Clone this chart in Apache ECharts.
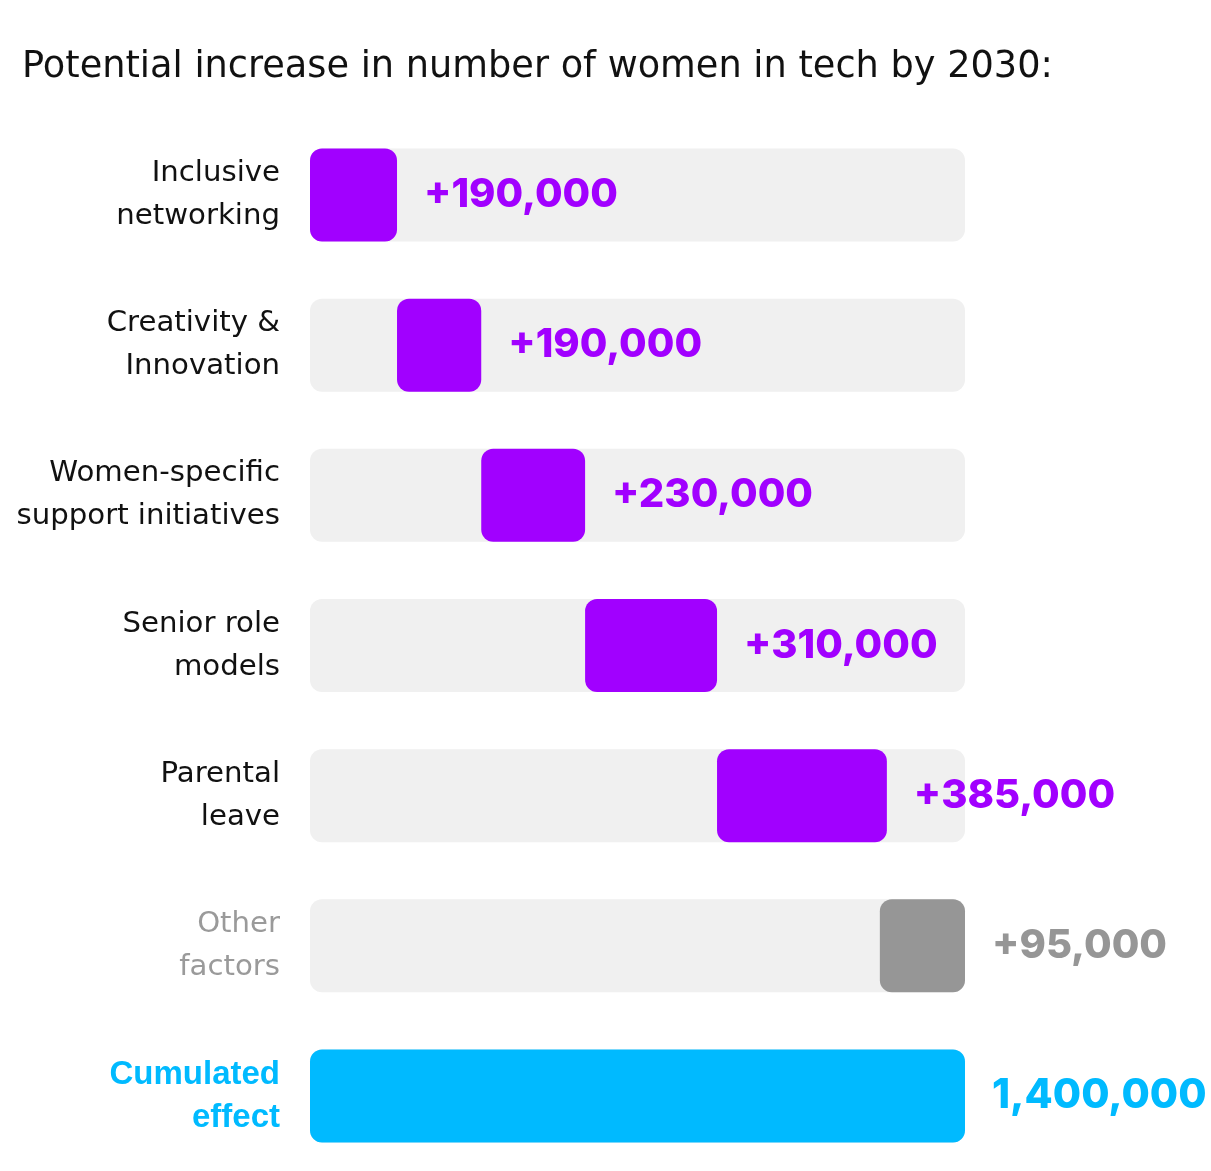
<!DOCTYPE html>
<html>
<head>
<meta charset="utf-8">
<script src="https://cdn.jsdelivr.net/npm/echarts@6/dist/echarts.min.js"></script>
<style>
html,body{margin:0;padding:0;background:#fff;}
#chart{width:1211px;height:1171px;}
</style>
</head>
<body>
<div id="chart"></div>
<script>
// Data (thousands)
const categories = ['Inclusive\nnetworking', 'Creativity &\nInnovation', 'Women-specific\nsupport initiatives', 'Senior role\nmodels', 'Parental\nleave', 'Other\nfactors', 'Cumulated\neffect'];
const valueLabels = ['+190,000', '+190,000', '+230,000', '+310,000', '+385,000', '+95,000', '1,400,000'];
// bar extents as drawn in the picture (thousands)
const barStart = [0, 186, 366, 588, 870, 1218, 0];
const barEnd = [186, 366, 588, 870, 1233, 1400, 1400];
const totalValue = 1400;
const kinds = ['impact', 'impact', 'impact', 'impact', 'impact', 'other', 'total'];

const colors = { impact: '#A100FF', other: '#969696', total: '#00BAFF' };
const catStyle = { impact: 'n', other: 'g', total: 't' };

const chart = echarts.init(document.getElementById('chart'), null, { renderer: 'canvas' });
chart.setOption({
  animation: false,
  title: {
    text: 'Potential increase in number of women in tech by 2030:',
    left: 17, top: 44,
    textStyle: { fontFamily: 'DejaVu Sans', fontWeight: 'normal', fontSize: 36.7, color: '#111' }
  },
  grid: { left: 310, right: 246, top: 120, height: 1052, containLabel: false },
  xAxis: { type: 'value', min: 0, max: totalValue, show: false },
  yAxis: {
    type: 'category', data: categories, inverse: true,
    axisLine: { show: false }, axisTick: { show: false },
    axisLabel: {
      margin: 30,
      formatter: function (v, i) {
        const k = catStyle[kinds[i]];
        return v.split('\n').map(s => '{' + k + '|' + s + '}').join('\n');
      },
      rich: {
        n: { fontFamily: 'DejaVu Sans', fontSize: 29.2, color: '#111', lineHeight: 43, align: 'right' },
        g: { fontFamily: 'DejaVu Sans', fontSize: 29.2, color: '#9a9a9a', lineHeight: 43, align: 'right' },
        t: { fontFamily: 'Liberation Sans', fontWeight: 'bold', fontSize: 33, color: '#00BAFF', lineHeight: 43, align: 'right' }
      }
    }
  },
  series: [
    {
      type: 'bar', silent: true, barWidth: 93, barGap: '-100%',
      data: categories.map(() => totalValue),
      itemStyle: { color: '#F0F0F0', borderRadius: 12 }
    },
    {
      type: 'bar', stack: 'w', barWidth: 93, silent: true,
      data: barStart,
      itemStyle: { color: 'transparent' }
    },
    {
      type: 'bar', stack: 'w', barWidth: 93,
      data: barEnd.map((e, i) => ({
        value: e - barStart[i],
        itemStyle: { color: colors[kinds[i]] },
        label: { color: colors[kinds[i]], fontSize: kinds[i] === 'total' ? 41 : 40 }
      })),
      itemStyle: { borderRadius: 12 },
      label: {
        show: true, position: 'right', distance: 27,
        fontFamily: 'Inter', fontSize: 40, fontWeight: 800,
        formatter: p => valueLabels[p.dataIndex]
      }
    }
  ]
});
</script>
</body>
</html>
